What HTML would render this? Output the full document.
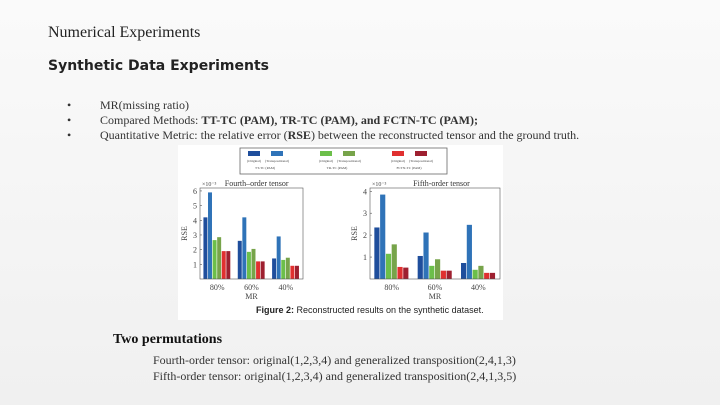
<!DOCTYPE html>
<html><head><meta charset="utf-8"><style>
body{margin:0;width:720px;height:405px;overflow:hidden;background:linear-gradient(#fafafa,#f0f0f0);font-family:"Liberation Serif",serif;color:#333;position:relative}
.t{position:absolute;white-space:nowrap}
</style></head><body>
<div class="t" style="left:48px;top:24px;font-size:16px;color:#222">Numerical Experiments</div>
<div class="t" style="left:48px;top:58px;font-size:14px;font-weight:bold;font-family:'DejaVu Sans',sans-serif;color:#222">Synthetic Data Experiments</div>
<div class="t" style="left:67px;top:98px;font-size:12px">•<span style="position:absolute;left:33px">MR(missing ratio)</span></div>
<div class="t" style="left:67px;top:113px;font-size:12px">•<span style="position:absolute;left:33px">Compared Methods: <b>TT-TC (PAM), TR-TC (PAM), and FCTN-TC (PAM);</b></span></div>
<div class="t" style="left:67px;top:128px;font-size:12px">•<span style="position:absolute;left:33px">Quantitative Metric: the relative error (<b>RSE</b>) between the reconstructed tensor and the ground truth.</span></div>
<svg style="position:absolute;left:178px;top:145px" width="325" height="175" id="fig">
<rect width="325" height="175" fill="#fff"/>
<rect x="62" y="3" width="207" height="26" fill="#fff" stroke="#666" stroke-width="0.8"/>
<text x="78" y="168" font-family="'Liberation Sans',sans-serif" font-size="9" fill="#222"><tspan font-weight="bold">Figure 2:</tspan> Reconstructed results on the synthetic dataset.</text>
</svg>
<div class="t" style="left:113px;top:332px;font-size:14px;font-weight:bold;color:#111">Two permutations</div>
<div class="t" style="left:153px;top:353px;font-size:12px">Fourth-order tensor: original(1,2,3,4) and generalized transposition(2,4,1,3)</div>
<div class="t" style="left:153px;top:369px;font-size:12px">Fifth-order tensor: original(1,2,3,4) and generalized transposition(2,4,1,3,5)</div>
<script>
const categories=["80%","60%","40%"];
const seriesColors=["#1f4e9c","#2f73b8","#6cbf4a","#77a44a","#e03030","#9e2030"];
const fourthValues=[[4.2,5.9,2.65,2.85,1.9,1.9],[2.6,4.2,1.85,2.05,1.2,1.2],[1.4,2.9,1.3,1.45,0.9,0.9]];
const fifthValues=[[2.35,3.85,1.15,1.58,0.55,0.52],[1.05,2.12,0.6,0.9,0.38,0.38],[0.73,2.47,0.42,0.6,0.28,0.28]];
const fourthTicks=[1,2,3,4,5,6];
const fifthTicks=[1,2,3,4];
const legendLabels=["TT-TC (PAM)","TR-TC (PAM)","FCTN-TC (PAM)"];
const NS="http://www.w3.org/2000/svg",svg=document.getElementById('fig');
function mk(t,a,p){const e=document.createElementNS(NS,t);for(const k in a)e.setAttribute(k,a[k]);(p||svg).appendChild(e);return e;}
legendLabels.forEach((l,i)=>{const x0=70+i*72;
 [0,1].forEach(j=>{const r=mk('rect',{x:x0+j*23,y:6,width:12,height:5,fill:seriesColors[i*2+j]});
 
 const t=mk('text',{x:x0+j*23+6,y:17,'font-size':3.5,'text-anchor':'middle',fill:'#444'});t.textContent=j?'(Transpositional)':'(Original)';});
 const t=mk('text',{x:x0+17,y:24,'font-size':3.5,'text-anchor':'middle',fill:'#444'});t.textContent=l;
 });
function chart(name,vals,ticks,x0,x1,yTop,yBot,ymax,title){
 const y=v=>yBot-(v/ymax)*(yBot-yTop);
 const g=mk('g',{});
 const gw=(x1-x0)/categories.length,bw=gw*0.8/6;
 vals.forEach((row,ci)=>{row.forEach((v,si)=>{const r=mk('rect',{x:x0+ci*gw+gw*0.1+si*bw,y:y(v),width:bw-0.6,height:yBot-y(v),fill:seriesColors[si]},g);
  });
  const t=mk('text',{x:x0+ci*gw+gw/2,y:yBot+11,'font-size':8,'text-anchor':'middle',fill:'#444'},g);t.textContent=categories[ci];});
 mk('rect',{x:x0,y:yTop,width:x1-x0,height:yBot-yTop,fill:'none',stroke:'#555','stroke-width':0.6},g);
 ticks.forEach(tv=>{mk('line',{x1:x0,x2:x0+2,y1:y(tv),y2:y(tv),stroke:'#555','stroke-width':0.6},g);
  const t=mk('text',{x:x0-3,y:y(tv)+3,'font-size':8,'text-anchor':'end',fill:'#444'},g);t.textContent=tv;});
 const e=mk('text',{x:x0+2,y:yTop-2,'font-size':6,fill:'#444'},g);e.textContent='×10⁻³';
 const tt=mk('text',{x:x0+(x1-x0)*0.55,y:yTop-2,'font-size':8,'text-anchor':'middle',fill:'#333'},g);tt.textContent=title;
 const xl=mk('text',{x:(x0+x1)/2,y:yBot+20,'font-size':8,'text-anchor':'middle',fill:'#444'},g);xl.textContent='MR';
 const yl=mk('text',{x:0,y:0,'font-size':8,'text-anchor':'middle',fill:'#444',transform:`translate(${x0-13},${(yTop+yBot)/2}) rotate(-90)`},g);yl.textContent='RSE';
}
chart('fourth-order-chart',fourthValues,fourthTicks,22,125,43,134,6.2,'Fourth–order tensor');
chart('fifth-order-chart',fifthValues,fifthTicks,192,322,43,134,4.15,'Fifth-order tensor');
</script>
</body></html>
